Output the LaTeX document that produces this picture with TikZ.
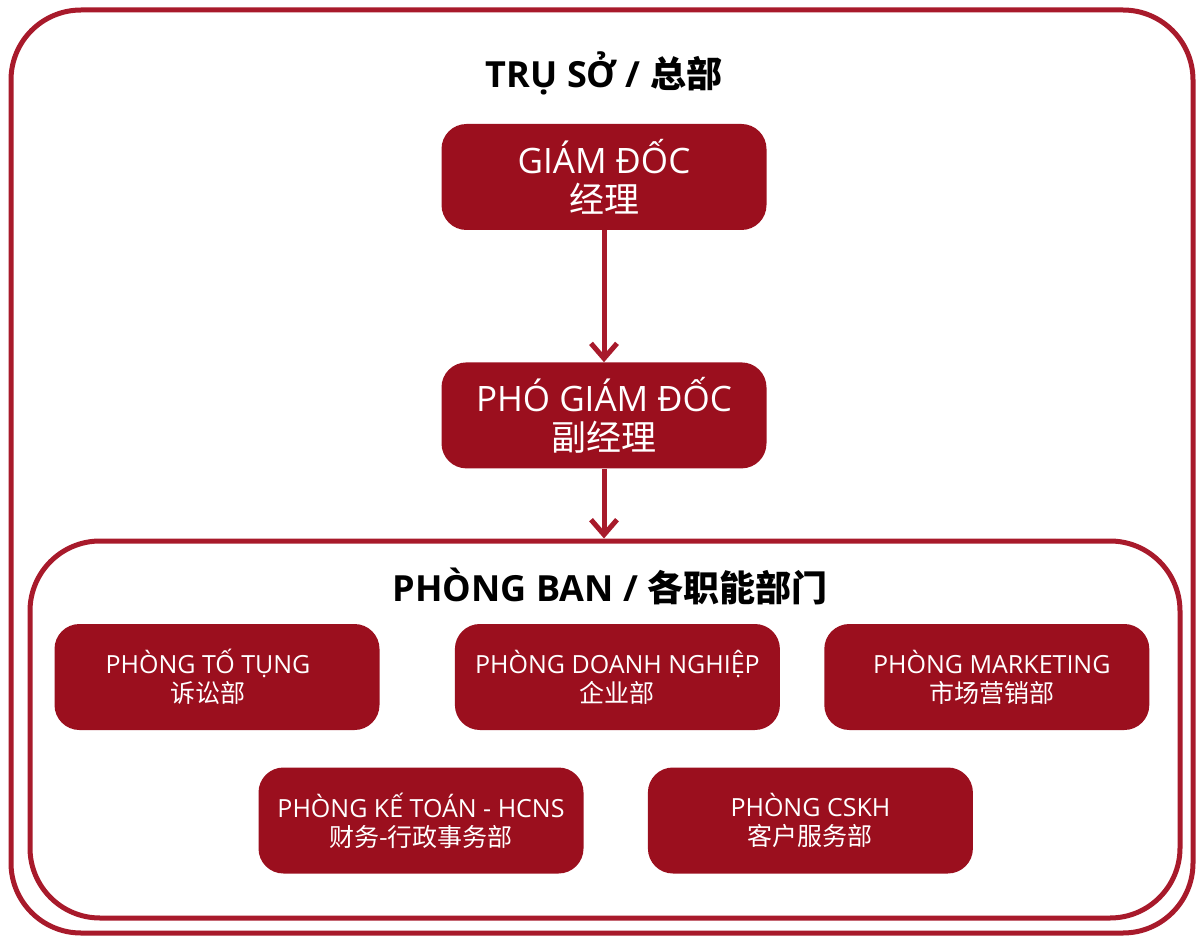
\documentclass[tikz,border=0pt]{standalone}
\usepackage{fontspec}
\setmainfont{Open Sans}
\newfontfamily\zh{Noto Sans CJK SC}
\usepackage{xcolor}
\usepackage{tikz}
\usetikzlibrary{positioning,arrows.meta}
\definecolor{framered}{HTML}{A81A2B}
\definecolor{boxred}{HTML}{9B0F1E}

\begin{document}
\begin{tikzpicture}[x=1pt,y=-1pt,
	frame/.style={draw=framered,line width=5pt,rounded corners=70pt,inner sep=0pt},
	headbox/.style={fill=boxred,rounded corners=25pt,minimum width=325pt,minimum height=106pt,
		text=white,align=center,inner sep=0pt,font=\fontsize{35}{39}\selectfont},
	deptbox/.style={fill=boxred,rounded corners=25pt,minimum width=325pt,minimum height=106pt,
		text=white,align=center,inner sep=0pt,font=\fontsize{25}{29}\selectfont},
	title/.style={font=\fontsize{36}{40}\selectfont\bfseries},
	link/.style={draw=framered,line width=5pt,-{Straight Barb[length=15pt,width=26pt,line width=5pt]}}]
		\useasboundingbox (0,0) rectangle (1200,936);
		\node[frame,minimum width=1182pt,minimum height=923pt] (hq) at (602,471.5) {};
		\node[frame,minimum width=1150pt,minimum height=377pt] (ban) at (605,729.5) {};

		\node[title] (truso) at (604,73) {TRỤ SỞ / {\zh\bfseries 总部}};
		\node[headbox] (gd) at (604,177) {GIÁM ĐỐC\\{\zh 经理}};
		\node[headbox,below=132pt of gd] (pgd) {PHÓ GIÁM ĐỐC\\{\zh 副经理}};

		\node[title] (phongban) at (610,586) {PHÒNG BAN / {\zh\bfseries 各职能部门}};
		\node[deptbox] (totung) at (217,677) {\hspace*{-18pt}PHÒNG TỐ TỤNG\\\hspace*{-18pt}{\zh 诉讼部}};
		\node[deptbox,right=75pt of totung] (doanhnghiep) {PHÒNG DOANH NGHIỆP\\{\zh 企业部}};
		\node[deptbox,right=44pt of doanhnghiep] (marketing) {\hspace{10pt}PHÒNG MARKETING\\\hspace{10pt}{\zh 市场营销部}};
		\node[deptbox] (ketoan) at (421,820.5) {PHÒNG KẾ TOÁN - HCNS\\{\zh 财务-行政事务部}};
		\node[deptbox,right=64pt of ketoan] (cskh) {PHÒNG CSKH\\{\zh 客户服务部}};

		\draw[link] (gd) -- (pgd);
		\draw[link] (pgd.south) -- (pgd.south |- ban.north);
	\end{tikzpicture}
\end{document}
